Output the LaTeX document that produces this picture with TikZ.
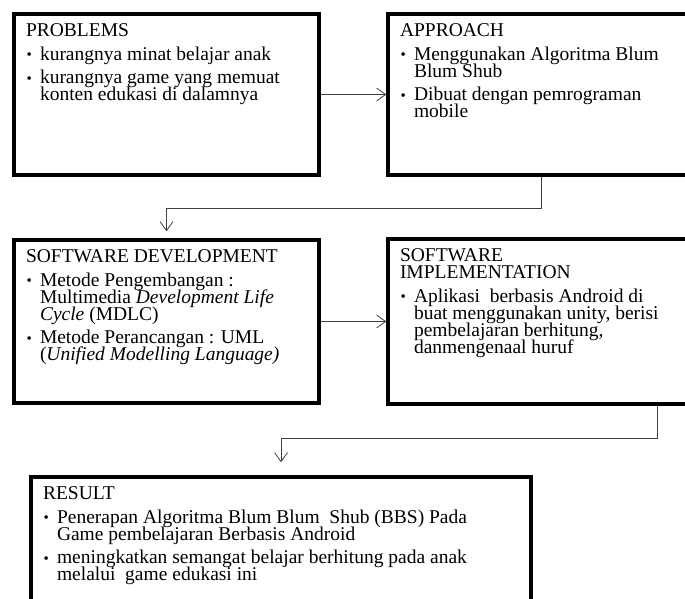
\documentclass[tikz,border=0pt]{standalone}
\usepackage{fontspec}
\setmainfont{Liberation Serif}
\usepackage{tikz}
\usetikzlibrary{arrows.meta,positioning,shadows}
\newcommand{\butir}[1]{\par\hangindent=14pt\hangafter=1\noindent\makebox[14pt][l]{\hspace{0.5pt}\raisebox{0.5pt}{\fontsize{15pt}{15pt}\selectfont\textbullet}}#1}
\newcommand{\isikotak}[3]{\begin{minipage}[c][#2][t]{#1}\raggedright\fontsize{19.5pt}{17pt}\selectfont\lineskiplimit=-8pt\setlength{\parskip}{6.5pt}#3\end{minipage}}

\begin{document}
\begin{tikzpicture}[
  x=1pt, y=-1pt,
  kotak/.style={draw, line width=3.5pt, fill=white, inner xsep=12pt, inner ysep=10pt,
    drop shadow={shadow xshift=1.5pt, shadow yshift=-2pt, opacity=0.3}},
  panah/.style={draw=black!75, line width=0.8pt, -{Straight Barb[length=9pt,width=13pt]}}
]
  \useasboundingbox (0,0) rectangle (685,599);

  \node[kotak] (problems) at (166.5,94.5) {\isikotak{281pt}{141pt}{PROBLEMS
    \butir{kurangnya minat belajar anak}
    \butir{kurangnya game yang memuat\newline konten edukasi di dalamnya}}};
  \node[kotak] (approach) at (541,94.5) {\isikotak{282pt}{141pt}{APPROACH
    \butir{Menggunakan Algoritma Blum\newline Blum Shub}
    \butir{Dibuat dengan pemrograman\newline mobile}}};
  \node[kotak] (swdev) at (166.5,321.5) {\isikotak{281pt}{143pt}{SOFTWARE DEVELOPMENT
    \butir{Metode Pengembangan :\newline Multimedia \textit{Development Life}\newline \textit{Cycle} (MDLC)}
    \butir{Metode Perancangan : UML\newline (\textit{Unified Modelling Language)}}}};
  \node[kotak] (swimpl) at (657,321.5) {\isikotak{514pt}{145pt}{SOFTWARE\\ IMPLEMENTATION
    \butir{Aplikasi~ berbasis Android di\newline buat menggunakan unity, berisi\newline pembelajaran berhitung,\newline danmengenaal huruf}}};
  \node[kotak] (result) at (281,552) {\isikotak{476pt}{130pt}{RESULT
    \butir{Penerapan Algoritma Blum Blum~ Shub (BBS) Pada\newline Game pembelajaran Berbasis Android}
    \butir{meningkatkan semangat belajar berhitung pada anak\newline melalui~ game edukasi ini}}};

  \draw[panah] (problems) -- (approach);
  \draw[panah] (approach.south) -- ++(0,32) -| ([yshift=7pt]swdev.north);
  \draw[panah] (swdev) -- (swimpl);
  \draw[panah] (swimpl.south) -- ++(0,33) -| ([yshift=13pt]result.north);
\end{tikzpicture}
\end{document}
